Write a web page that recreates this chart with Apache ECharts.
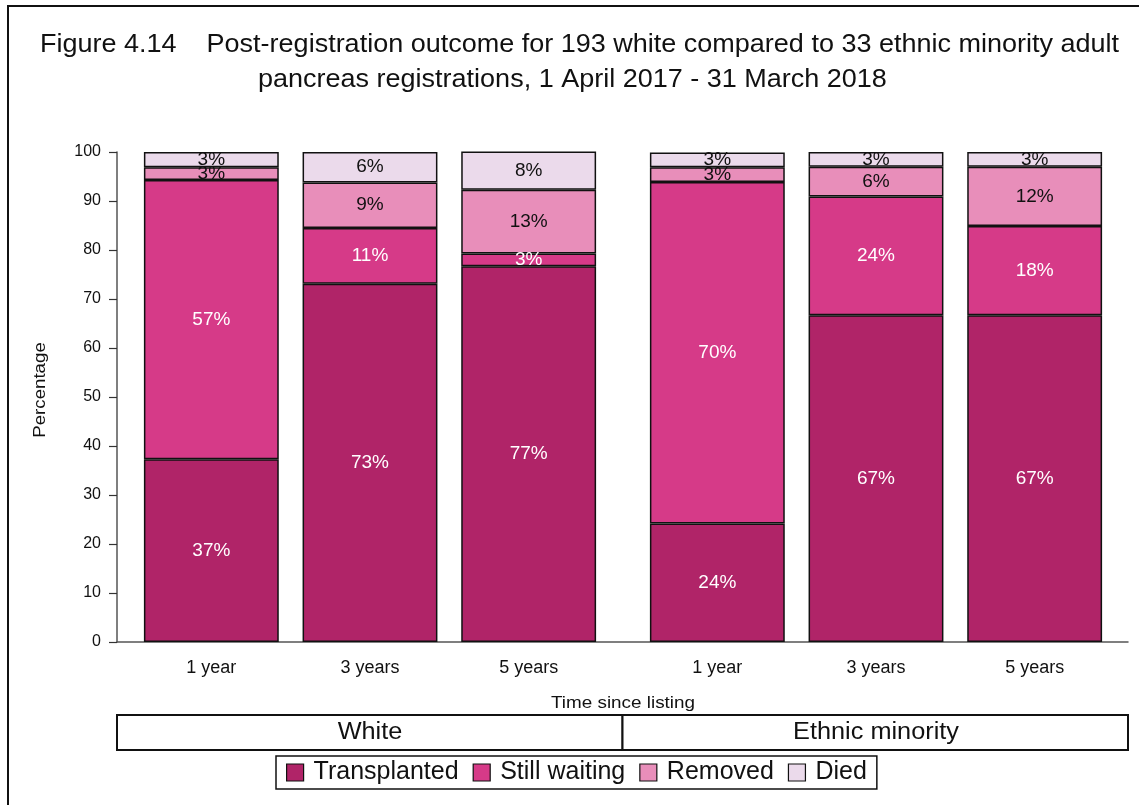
<!DOCTYPE html>
<html>
<head>
<meta charset="utf-8">
<script src="https://cdn.jsdelivr.net/npm/echarts@6/dist/echarts.min.js"></script>
<style>html,body{margin:0;padding:0;background:#fff;}#c{width:1139px;height:805px;}</style>
</head>
<body>
<div id="c"></div>
<script>
const timeLabels = ['1 year', '3 years', '5 years'];
const groupLabels = ['White', 'Ethnic minority'];
const outcomeNames = ['Transplanted', 'Still waiting', 'Removed', 'Died'];
const yTicks = [0, 10, 20, 30, 40, 50, 60, 70, 80, 90, 100];
const titleLines = ['Figure 4.14    Post-registration outcome for 193 white compared to 33 ethnic minority adult',
                    'pancreas registrations, 1 April 2017 - 31 March 2018'];
const xAxisTitle = 'Time since listing';
const yAxisTitle = 'Percentage';

// White (n=193): percentages for 1, 3, 5 years
const whiteTransplanted = [37.3, 73.1, 76.7];
const whiteStillWaiting = [57.0, 11.4, 2.6];
const whiteRemoved = [2.6, 9.3, 13.0];
const whiteDied = [3.1, 6.2, 7.8];

// Ethnic minority (n=33)
const minorityTransplanted = [24.2, 66.7, 66.7];
const minorityStillWaiting = [69.7, 24.2, 18.2];
const minorityRemoved = [3.0, 6.1, 12.1];
const minorityDied = [3.0, 3.0, 3.0];

const colors = ['#B02468', '#D63A88', '#E88EBA', '#EBDAEB'];
const labelColors = ['#ffffff', '#ffffff', '#111111', '#111111'];
const FONT = 'Liberation Sans, Arial, sans-serif';

const chart = echarts.init(document.getElementById('c'));

const whiteData = [whiteTransplanted, whiteStillWaiting, whiteRemoved, whiteDied];
const minorityData = [minorityTransplanted, minorityStillWaiting, minorityRemoved, minorityDied];

function makeSeries(dataSets, axisIndex, stackName) {
  return dataSets.map((d, i) => ({
    name: outcomeNames[i],
    type: 'bar',
    stack: stackName,
    xAxisIndex: axisIndex,
    yAxisIndex: axisIndex,
    data: d,
    barCategoryGap: '15%',
    itemStyle: { color: colors[i], borderColor: '#111', borderWidth: 1.5 },
    label: {
      show: true,
      position: 'inside',
      formatter: p => Math.round(p.value) + '%',
      color: labelColors[i],
      fontFamily: FONT,
      fontSize: 19,
      textBorderWidth: 0
    },
    emphasis: { disabled: true },
    silent: true
  }));
}

const TOP = 152, H = 490;

function stretchedText(text, x, y, size, sx, align, rotation) {
  return { type: 'text', silent: true, x: x, y: y, scaleX: sx, rotation: rotation || 0,
    style: { text: text, font: size + 'px ' + FONT, fill: '#111', align: align, verticalAlign: 'middle' } };
}

const option = {
  animation: false,
  backgroundColor: '#ffffff',
  legend: {
    data: outcomeNames,
    left: 276, top: 756,
    itemWidth: 17, itemHeight: 17, itemGap: 14,
    icon: 'rect',
    borderColor: '#111', borderWidth: 1.5,
    padding: [4, 10, 4, 10],
    selectedMode: false,
    itemStyle: { borderColor: '#111', borderWidth: 1.2 },
    textStyle: { fontFamily: FONT, fontSize: 25, color: '#111', padding: [0, 0, 0, 5] }
  },
  grid: [
    { left: 117, width: 1011, top: TOP, height: H },
    { left: 132, width: 476, top: TOP, height: H },
    { left: 638, width: 476, top: TOP, height: H }
  ],
  xAxis: [
    { gridIndex: 0, type: 'value', min: 0, max: 1,
      axisLine: { show: true, lineStyle: { color: '#555', width: 1.5 } },
      axisTick: { show: false }, axisLabel: { show: false }, splitLine: { show: false } },
    { gridIndex: 1, type: 'category', data: timeLabels,
      axisLine: { show: false }, axisTick: { show: false },
      axisLabel: { fontFamily: FONT, fontSize: 18, color: '#111', margin: 17 } },
    { gridIndex: 2, type: 'category', data: timeLabels,
      axisLine: { show: false }, axisTick: { show: false },
      axisLabel: { fontFamily: FONT, fontSize: 18, color: '#111', margin: 17 } }
  ],
  yAxis: [
    { gridIndex: 0, type: 'value', min: yTicks[0], max: yTicks[yTicks.length - 1], interval: 10,
      axisLine: { show: true, lineStyle: { color: '#555', width: 1.5 } },
      axisTick: { show: true, length: 8, lineStyle: { color: '#333', width: 1.2 } },
      axisLabel: { fontFamily: FONT, fontSize: 16, color: '#111', margin: 16 },
      splitLine: { show: false } },
    { gridIndex: 1, type: 'value', min: 0, max: 100, show: false },
    { gridIndex: 2, type: 'value', min: 0, max: 100, show: false }
  ],
  graphic: [
    { type: 'rect', silent: true, shape: { x: 8, y: 6, width: 1200, height: 900 },
      style: { fill: null, stroke: '#111', lineWidth: 2 } },
    stretchedText(titleLines[0], 40, 45, 25, 1.08, 'left'),
    stretchedText(titleLines[1], 258, 80, 25, 1.08, 'left'),
    stretchedText(xAxisTitle, 623, 703, 17, 1.11, 'center'),
    stretchedText(yAxisTitle, 40, 390, 17, 1.1, 'center', Math.PI / 2),
    { type: 'rect', silent: true, shape: { x: 117, y: 715, width: 505.5, height: 35 },
      style: { fill: '#fff', stroke: '#111', lineWidth: 2 } },
    { type: 'rect', silent: true, shape: { x: 622.5, y: 715, width: 505.5, height: 35 },
      style: { fill: '#fff', stroke: '#111', lineWidth: 2 } },
    stretchedText(groupLabels[0], 370, 733, 23, 1.1, 'center'),
    stretchedText(groupLabels[1], 876, 733, 23, 1.1, 'center')
  ],
  series: [].concat(makeSeries(whiteData, 1, 'w'), makeSeries(minorityData, 2, 'm'))
};
chart.setOption(option);
</script>
</body>
</html>
